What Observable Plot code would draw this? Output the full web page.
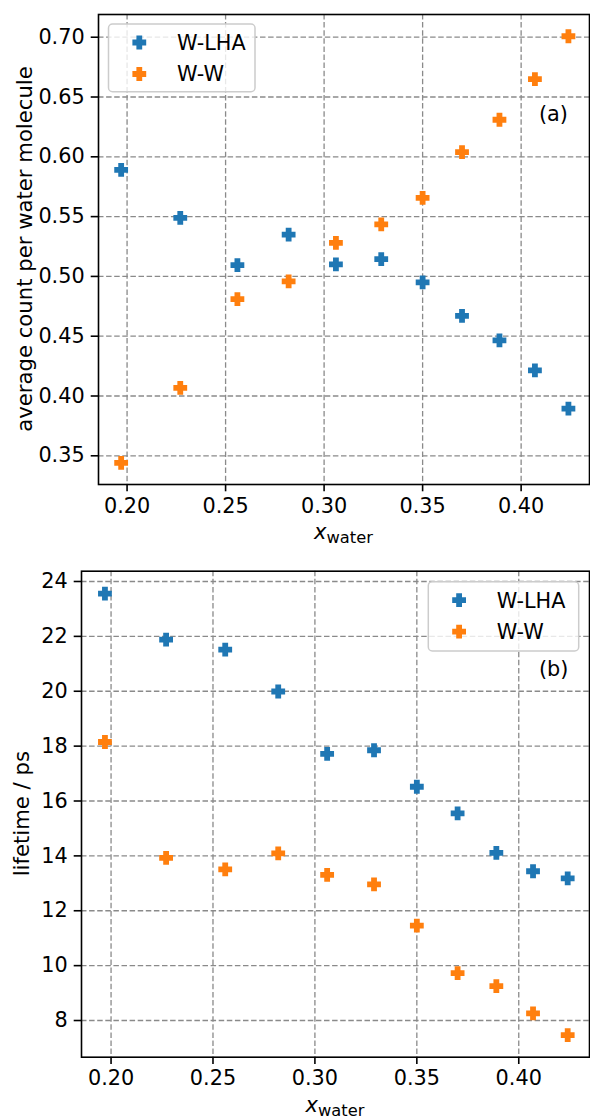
<!DOCTYPE html>
<html>
<head>
<meta charset="utf-8">
<script src="https://cdn.jsdelivr.net/npm/d3@7"></script>
<script src="https://cdn.jsdelivr.net/npm/@observablehq/plot@0.6"></script>
<style>
  html, body { margin: 0; padding: 0; background: #fff; }
  #chart { width: 590px; }
  #chart svg { display: block; font-family: "DejaVu Sans", sans-serif; }
</style>
</head>
<body>
<div id="chart"></div>
<script>
// ---------- data ----------
const xWater = [0.197, 0.227, 0.256, 0.282, 0.306, 0.329, 0.350, 0.370, 0.389, 0.407, 0.424];
const seriesNames = ["W-LHA", "W-W"];
const seriesColors = ["#1f77b4", "#ff7f0e"];

const countWLHA = [0.589, 0.549, 0.5095, 0.535, 0.510, 0.5145, 0.495, 0.467, 0.4465, 0.4215, 0.3895];
const countWW   = [0.344, 0.4068, 0.481, 0.4958, 0.528, 0.5435, 0.5656, 0.604, 0.631, 0.665, 0.7008];

const lifetimeWLHA = [23.56, 21.88, 21.52, 19.99, 17.72, 17.85, 16.52, 15.55, 14.11, 13.44, 13.18];
const lifetimeWW   = [18.15, 13.93, 13.51, 14.09, 13.31, 12.96, 11.46, 9.73, 9.25, 8.26, 7.47];

const xTicks = [0.20, 0.25, 0.30, 0.35, 0.40];
const countTicks = [0.35, 0.40, 0.45, 0.50, 0.55, 0.60, 0.65, 0.70];
const lifetimeTicks = [8, 10, 12, 14, 16, 18, 20, 22, 24];

const labelCount = "average count per water molecule";
const labelLifetime = "lifetime / ps";
const panelLetters = ["(a)", "(b)"];

// ---------- helpers ----------
const FS = 20.8;
const plusFilled = {
  draw(ctx, size) {
    const r = Math.sqrt(size / Math.PI), a = r * 0.42;
    ctx.moveTo(-a, -r); ctx.lineTo(a, -r); ctx.lineTo(a, -a); ctx.lineTo(r, -a);
    ctx.lineTo(r, a); ctx.lineTo(a, a); ctx.lineTo(a, r); ctx.lineTo(-a, r);
    ctx.lineTo(-a, a); ctx.lineTo(-r, a); ctx.lineTo(-r, -a); ctx.lineTo(-a, -a);
    ctx.closePath();
  }
};
const R = 6.9;

function table(a, b) {
  const rows = [];
  xWater.forEach((x, i) => rows.push({x, y: a[i], series: seriesNames[0]}));
  xWater.forEach((x, i) => rows.push({x, y: b[i], series: seriesNames[1]}));
  return rows;
}

const gridStyle = {stroke: "#8a8a8a", strokeOpacity: 1, strokeWidth: 1.3, strokeDasharray: "5.5,2.6"};

function panel(o) {
  const svg = Plot.plot({
    width: 590,
    height: o.height,
    marginLeft: o.ml, marginRight: 1, marginTop: o.mt, marginBottom: o.mb,
    style: {fontFamily: "DejaVu Sans, sans-serif", fontSize: FS + "px", color: "#000", background: "#fff", overflow: "visible"},
    x: {domain: [0.1855, 0.4347]},
    y: {domain: o.ydomain},
    color: {domain: seriesNames, range: seriesColors},
    marks: [
      Plot.gridX(xTicks, gridStyle),
      Plot.gridY(o.yticks, gridStyle),
      Plot.dot(o.data, {x: "x", y: "y", fill: "series", symbol: plusFilled, r: R}),
      Plot.frame({stroke: "#000", strokeWidth: 1.6}),
      Plot.axisX({ticks: xTicks, tickFormat: d => d.toFixed(2), tickSize: 7.3, tickPadding: 6.2, fontSize: FS, strokeWidth: 1.6, label: null}),
      Plot.axisY({ticks: o.yticks, tickFormat: o.yfmt, tickSize: 7.3, tickPadding: 6.5, fontSize: FS, strokeWidth: 1.6, label: null})
    ]
  });
  const s = d3.select(svg);
  const cx = (o.ml + 589) / 2;
  const bottom = o.height - o.mb;
  // x label
  const xl = s.append("text").attr("x", cx).attr("y", bottom + 55.3)
    .attr("text-anchor", "middle").attr("font-size", 21).attr("fill", "#000");
  xl.append("tspan").attr("font-style", "italic").text("x");
  xl.append("tspan").attr("font-size", 16.3).attr("dy", 4).text("water");
  // y label
  s.append("text").attr("transform", `translate(${o.ylx},${(o.mt + bottom) / 2}) rotate(-90)`)
    .attr("text-anchor", "middle").attr("font-size", 21.2).attr("fill", "#000").text(o.ylabel);
  // panel letter
  s.append("text").attr("x", 539).attr("y", o.letterY).attr("text-anchor", "start")
    .attr("font-size", FS).attr("fill", "#000").text(o.letter);
  // legend
  const L = o.legend;
  const g = s.append("g");
  g.append("rect").attr("x", L.x).attr("y", L.y).attr("width", L.w).attr("height", L.h)
    .attr("rx", 4).attr("fill", "#fff").attr("fill-opacity", 0.8).attr("stroke", "#cccccc").attr("stroke-width", 1.5);
  seriesNames.forEach((name, i) => {
    const my = L.y + 18.5 + i * 31.5;
    g.append("path").attr("transform", `translate(${L.x + 30.8},${my})`)
      .attr("d", d3.symbol(plusFilled, R * R * Math.PI)()).attr("fill", seriesColors[i]);
    g.append("text").attr("x", L.x + 68.5).attr("y", my + 7.4).attr("text-anchor", "start")
      .attr("font-size", FS).attr("fill", "#000").text(name);
  });
  return svg;
}

const chart = document.getElementById("chart");
chart.appendChild(panel({
  height: 552, ml: 98, mt: 14, mb: 68,
  ydomain: [0.326, 0.719], yticks: countTicks, yfmt: d => d.toFixed(2),
  data: table(countWLHA, countWW),
  ylabel: labelCount, ylx: 31.5,
  letter: panelLetters[0], letterY: 121,
  legend: {x: 108.5, y: 24, w: 146.5, h: 67.7}
}));
chart.appendChild(panel({
  height: 566, ml: 81, mt: 18.7, mb: 61.3,
  ydomain: [6.663, 24.375], yticks: lifetimeTicks, yfmt: d => String(d),
  data: table(lifetimeWLHA, lifetimeWW),
  ylabel: labelLifetime, ylx: 28.5,
  letter: panelLetters[1], letterY: 124,
  legend: {x: 428.3 , y: 29.7, w: 150.4, h: 69.3}
}));
</script>
</body>
</html>
